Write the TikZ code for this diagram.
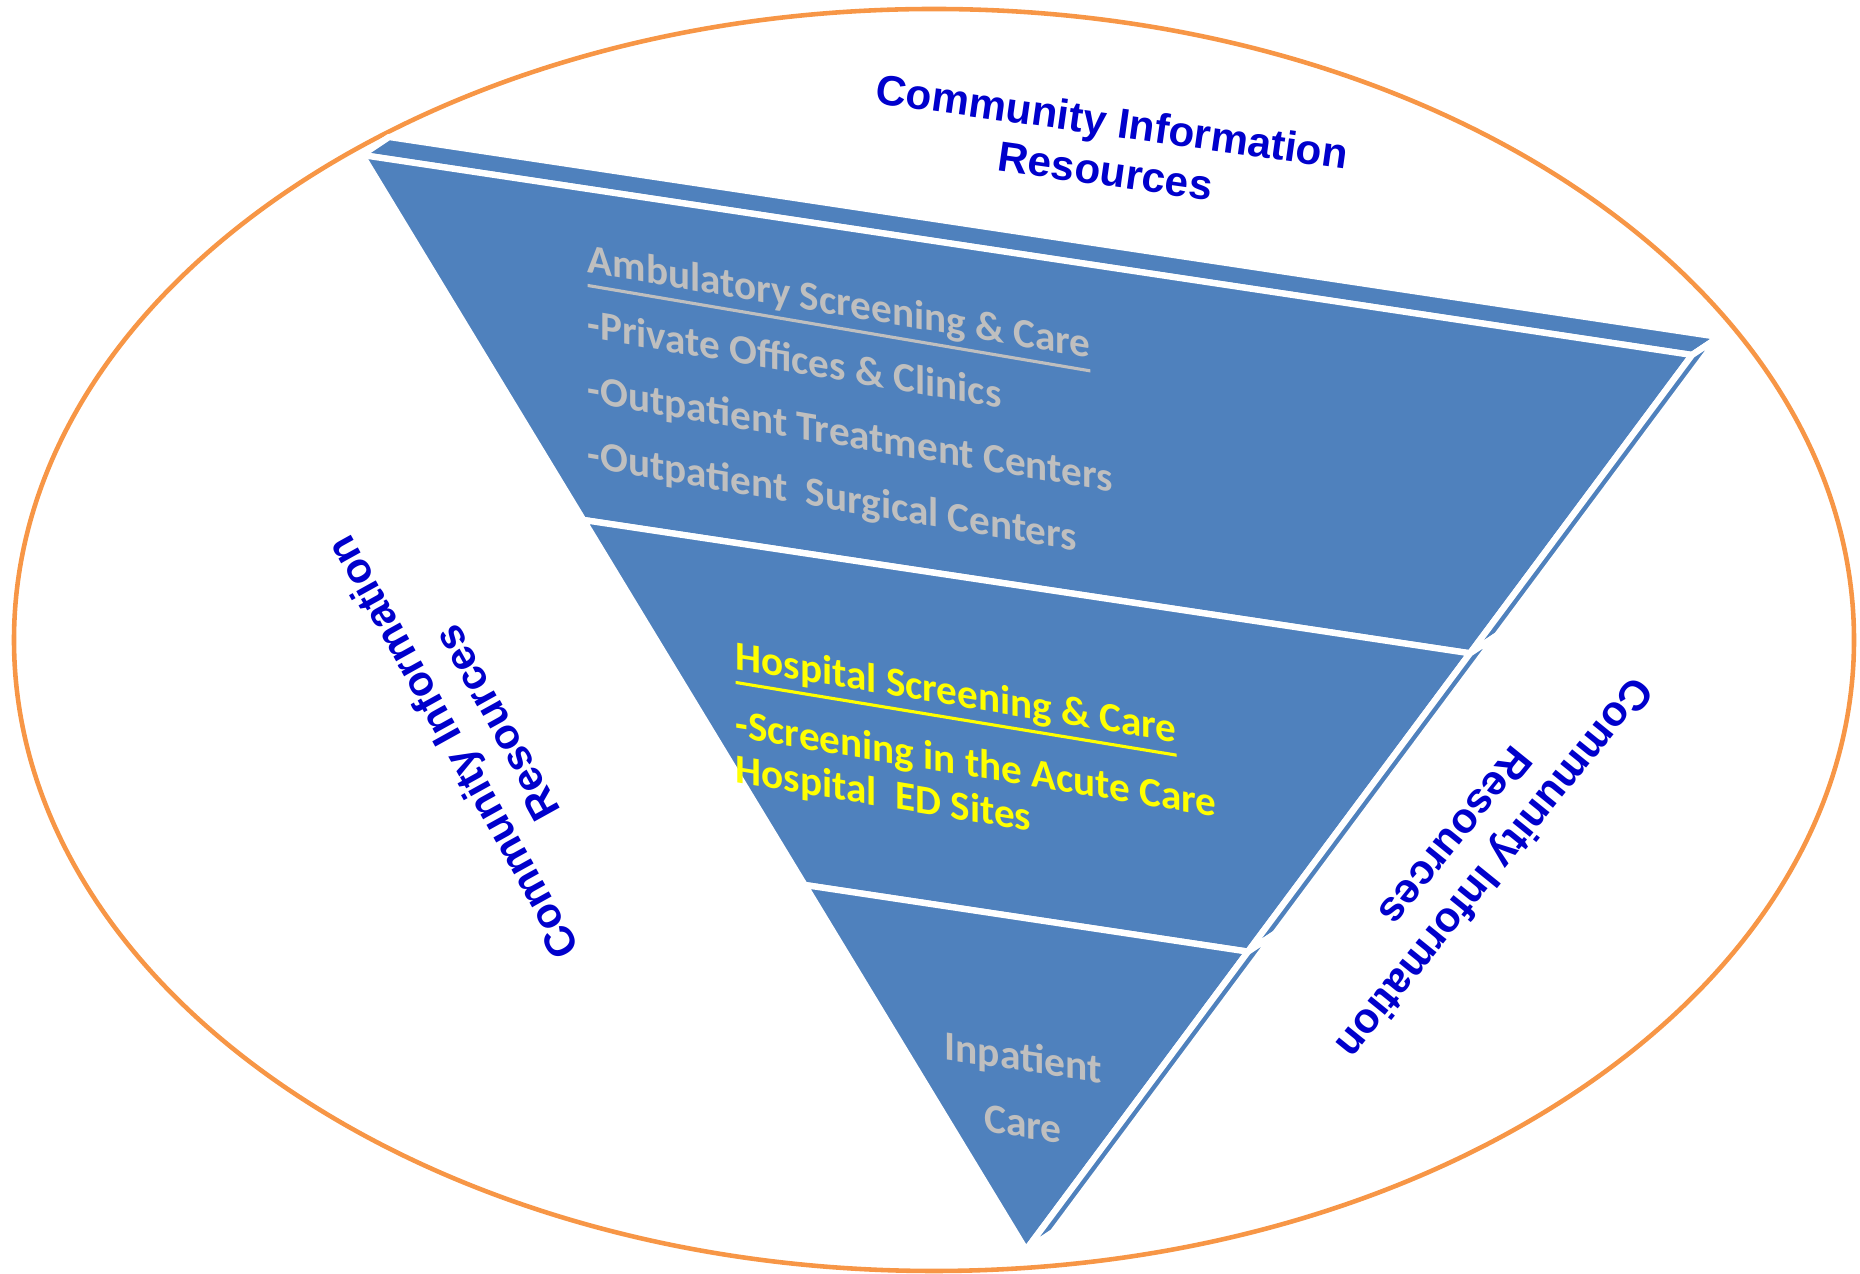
\documentclass[tikz,border=0pt]{standalone}
\usepackage{fontspec}
\usetikzlibrary{calc}

\newfontfamily\labelfont{Liberation Sans}
\newfontfamily\layerfont{Carlito}

\definecolor{layerblue}{HTML}{4F81BD}
\definecolor{rimorange}{HTML}{F79646}
\definecolor{labelblue}{HTML}{0000CC}
\definecolor{softgray}{HTML}{BFBFBF}
\definecolor{hiyellow}{HTML}{FFFF00}

\newcommand{\headline}[1]{\vtop{\hbox{#1}\kern1.2pt\hrule height 0.9pt}}

\begin{document}
\begin{tikzpicture}[
    x=0.01cm, y=-0.01cm,
    layer/.style={fill=layerblue, draw=white, line width=1.8pt, line join=round},
    ring/.style={draw=rimorange, line width=1.3pt},
    community/.style={text=labelblue, font=\labelfont\bfseries\fontsize{12}{14.2}\selectfont, align=center, inner sep=0pt},
    ambulatory/.style={text=softgray, font=\layerfont\bfseries\fontsize{11.7}{18.5}\selectfont, align=left, inner sep=0pt, anchor=north west, yslant=-0.17},
    hospital/.style={text=hiyellow, font=\layerfont\bfseries\fontsize{11.7}{12.8}\selectfont, align=left, inner sep=0pt, anchor=north west, yslant=-0.165},
    inpatient/.style={text=softgray, font=\layerfont\bfseries\fontsize{11.8}{18.8}\selectfont, align=center, inner sep=0pt, yslant=-0.15}
]
\useasboundingbox (0,0) rectangle (1860,1274);

% Outer ring
\draw[ring] (934,640) ellipse [x radius=920, y radius=631];

% Pyramid corners
\coordinate (A) at (362,155);
\coordinate (B) at (1692,355);
\coordinate (C) at (1026,1250);
\coordinate (L1) at ($(A)!1/3!(C)$);
\coordinate (L2) at ($(A)!2/3!(C)$);
\coordinate (R1) at ($(B)!1/3!(C)$);
\coordinate (R2) at ($(B)!2/3!(C)$);
\coordinate (bA) at ($(A)+(27,-18)$);
\coordinate (bB) at ($(B)+(27,-18)$);
\coordinate (bR1) at ($(R1)+(27,-18)$);
\coordinate (bR2) at ($(R2)+(27,-18)$);
\coordinate (bC) at ($(C)+(27,-18)$);

% Top face
\draw[layer] (A) -- (B) -- (bB) -- (bA) -- cycle;

% Front faces
\draw[layer] (A) -- (B) -- (R1) -- (L1) -- cycle;
\draw[layer] (L1) -- (R1) -- (R2) -- (L2) -- cycle;
\draw[layer] (L2) -- (R2) -- (C) -- cycle;

% Side faces
\draw[layer] (B) -- (R1) -- (bR1) -- (bB) -- cycle;
\draw[layer] (R1) -- (R2) -- (bR2) -- (bR1) -- cycle;
\draw[layer] (R2) -- (C) -- (bC) -- (bR2) -- cycle;

% Layer texts
\node[ambulatory] (ambulatory) at (587,243) {\headline{Ambulatory Screening \& Care}\\-Private Offices \& Clinics\\-Outpatient Treatment Centers\\-Outpatient\ \ Surgical Centers};
\node[hospital] (hospital) at (735,640) {\headline{Hospital Screening \& Care}\\[6.5pt]-Screening in the Acute Care\\Hospital\ \ ED Sites};
\node[inpatient] (inpatient) at (1023,1090) {Inpatient\\Care};

% Community labels
\node[community, rotate=-8] (toplabel) at (1109,146) {Community Information\\Resources};
\node[community, rotate=119] (leftlabel) at (474,736) {Community Information\\Resources};
\node[community, rotate=-129] (rightlabel) at (1476,853) {Community Information\\Resources};

\end{tikzpicture}
\end{document}
